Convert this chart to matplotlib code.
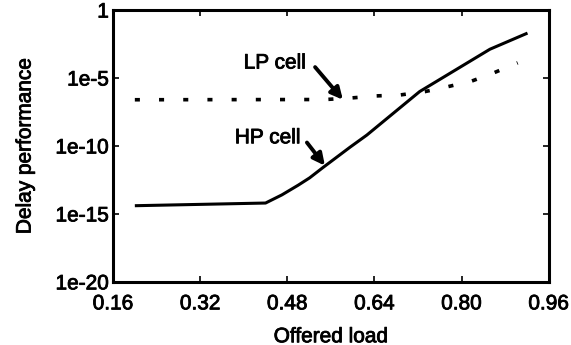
import matplotlib
matplotlib.use("Agg")
import matplotlib.pyplot as plt
import matplotlib.patheffects as pe

# Data
hp_load = [0.20, 0.44, 0.47, 0.50, 0.521, 0.545, 0.595, 0.626, 0.723, 0.852, 0.921]
hp_delay = [4.0e-15, 6.3e-15, 2.5e-14, 1.3e-13, 4.5e-13, 2.5e-12, 8.0e-11, 6.3e-10, 1.0e-6, 1.3e-3, 2.0e-2]
lp_load = [0.20, 0.55, 0.598, 0.644, 0.687, 0.733, 0.775, 0.819, 0.857, 0.903]
lp_delay = [2.5e-7, 2.6e-7, 3.4e-7, 4.8e-7, 5.6e-7, 1.0e-6, 2.3e-6, 6.0e-6, 2.2e-5, 1.3e-4]
x_ticks = [0.16, 0.32, 0.48, 0.64, 0.80, 0.96]
y_ticks = [1e-20, 1e-15, 1e-10, 1e-5, 1]
y_tick_labels = ["1e-20", "1e-15", "1e-10", "1e-5", "1"]

plt.rcParams['font.family'] = ['Liberation Sans', 'DejaVu Sans']
thick = [pe.withStroke(linewidth=0.6, foreground='black')]

fig = plt.figure(figsize=(5.71, 3.45), dpi=100)
ax = fig.add_axes([0.198, 0.183, 0.763, 0.788])

ax.plot(hp_load, hp_delay, color='black', lw=2.2, solid_capstyle='butt', solid_joinstyle='round')
ax.plot(lp_load, lp_delay, color='black', lw=2.6, linestyle=(0, (1.4, 5.3)), dash_capstyle='butt')

ax.set_yscale('log')
ax.set_xlim(0.16, 0.96)
ax.set_ylim(1e-20, 1)
ax.set_xticks(x_ticks)
ax.set_xticklabels([f"{v:.2f}" for v in x_ticks])
ax.set_yticks(y_ticks)
ax.set_yticklabels(y_tick_labels)
ax.minorticks_off()
ax.tick_params(direction='in', top=True, right=True, length=4, width=1.2, labelsize=15)
ax.tick_params(axis='x', pad=9)
ax.tick_params(axis='y', pad=3)
for lab in ax.get_xticklabels() + ax.get_yticklabels():
    lab.set_path_effects(thick)
for s in ax.spines.values():
    s.set_linewidth(2.2)

ax.set_xlabel("Offered load", fontsize=15, labelpad=10, path_effects=thick)
ax.set_ylabel("Delay performance", fontsize=15, labelpad=15, path_effects=thick)

# annotations
ax.text(0.457, 10**-3.9, "LP cell", fontsize=15, ha='center', va='center', path_effects=thick)
ax.annotate('', xy=(0.582, 10**-6.6), xytext=(0.531, 10**-4.2),
            arrowprops=dict(arrowstyle='-|>,head_length=0.7,head_width=0.35', lw=2.8, color='black',
                            shrinkA=0, shrinkB=0))
ax.text(0.444, 10**-9.4, "HP cell", fontsize=15, ha='center', va='center', path_effects=thick)
ax.annotate('', xy=(0.549, 10**-11.45), xytext=(0.516, 10**-9.75),
            arrowprops=dict(arrowstyle='-|>,head_length=0.7,head_width=0.35', lw=2.8, color='black',
                            shrinkA=0, shrinkB=0))

fig.savefig("out.png", dpi=100)
